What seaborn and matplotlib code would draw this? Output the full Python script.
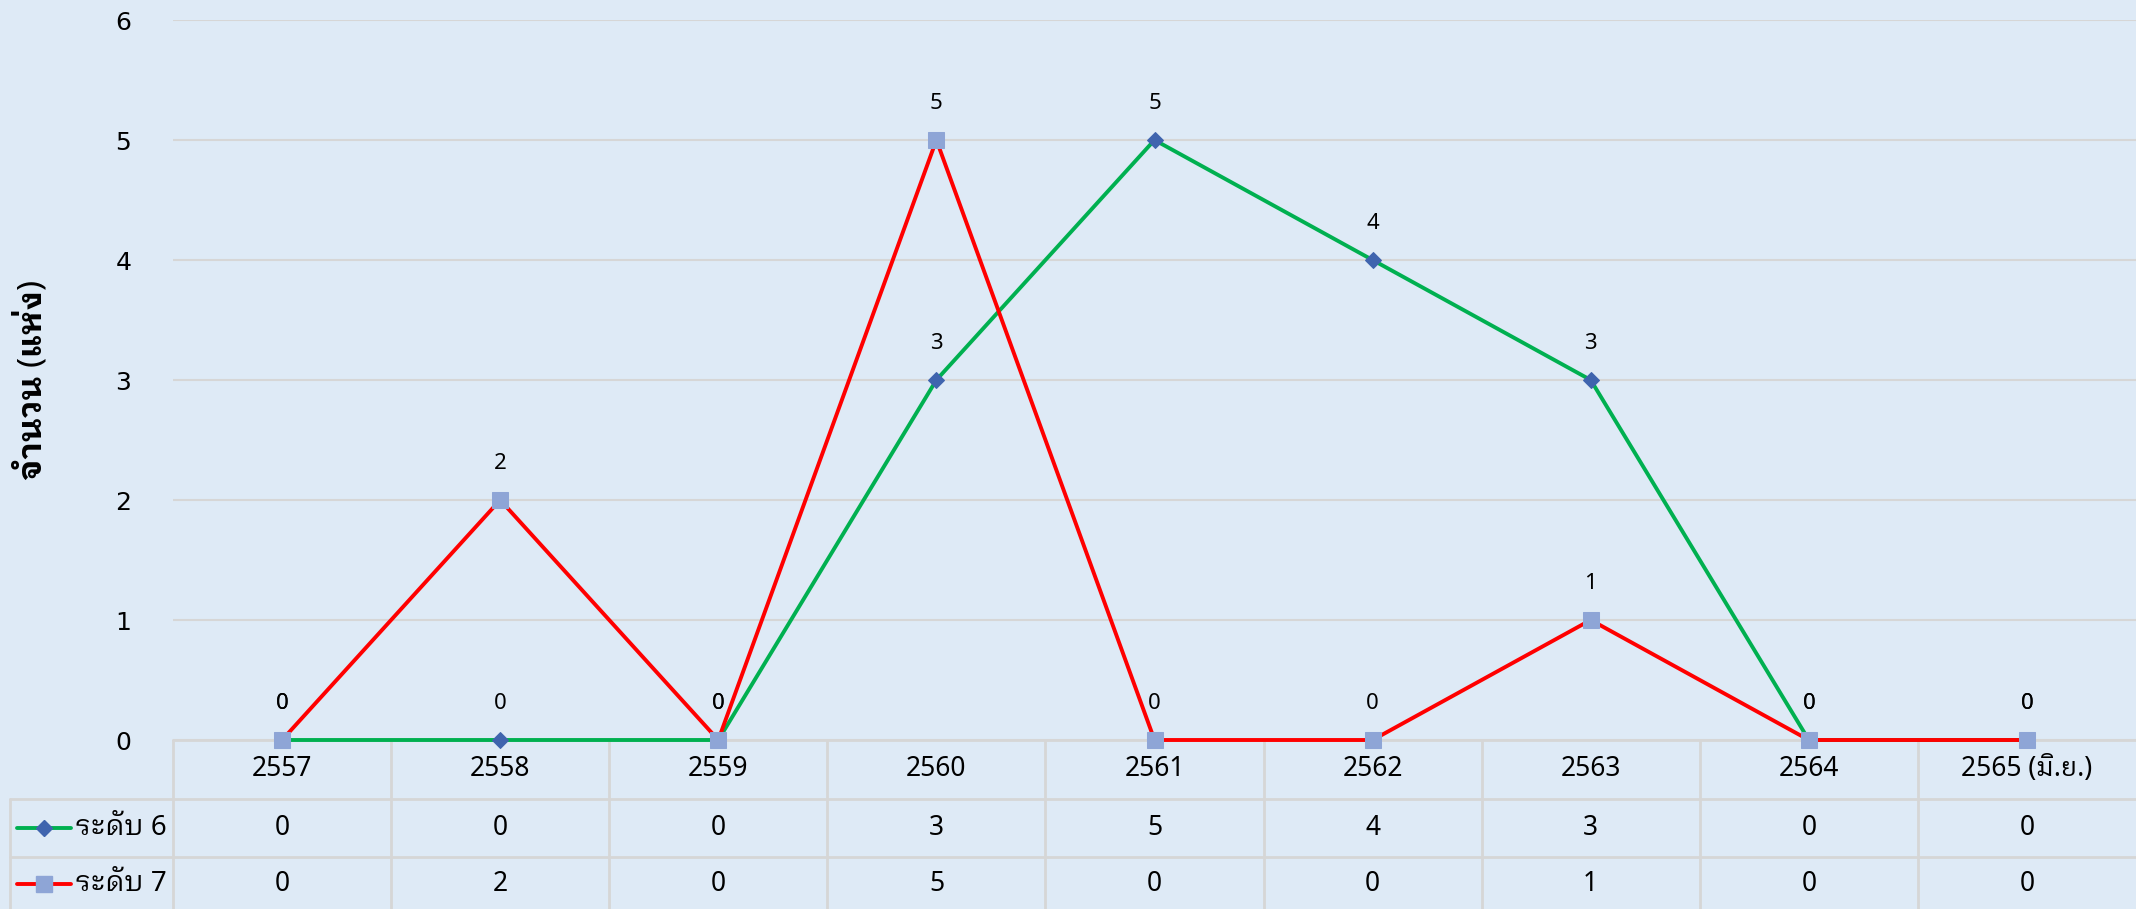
import numpy as np
import pandas as pd
import seaborn as sns
import matplotlib
matplotlib.use("Agg")
import matplotlib.pyplot as plt
from matplotlib import font_manager, ft2font
from matplotlib.lines import Line2D

# ---- data ----
years = ["2557", "2558", "2559", "2560", "2561", "2562", "2563", "2564", "2565 (มิ.ย.)"]
level6 = [0, 0, 0, 3, 5, 4, 3, 0, 0]
level7 = [0, 2, 0, 5, 0, 0, 1, 0, 0]
series_names = ["ระดับ 6", "ระดับ 7"]
y_label = "จำนวน (แห่ง)"
y_ticks = [0, 1, 2, 3, 4, 5, 6]

# ---- styling ----
BG = "#DEEAF6"
GRID = "#D6D6D6"
GREEN = "#00B050"
RED = "#FF0000"
DIAMOND = "#3F64AE"
SQUARE = "#8EA5D6"


def thai_capable_families():
    """Families whose fonts contain Thai glyphs, looped designs first."""
    found = []
    for f in font_manager.fontManager.ttflist:
        try:
            cmap = ft2font.FT2Font(f.fname).get_charmap()
        except Exception:
            continue
        if 0x0E08 in cmap and 0x0E31 in cmap and f.name not in found:
            found.append(f.name)
    found.sort(key=lambda n: ("Looped" not in n, "Thai" not in n, n))
    return found


sns.set_theme(style="white")
thai = thai_capable_families()
base_fams = ["Noto Sans"] + thai + ["DejaVu Sans"]
plt.rcParams["font.family"] = base_fams
plt.rcParams["text.color"] = "black"
plt.rcParams["axes.labelcolor"] = "black"
plt.rcParams["ytick.color"] = "black"

W, H = 2136, 909
fig = plt.figure(figsize=(W / 100, H / 100), dpi=100, facecolor=BG)

# plot area in pixels
L, R, T, B = 173, 2136, 20, 740
ax = fig.add_axes([L / W, 1 - B / H, (R - L) / W, (B - T) / H])
ax.set_facecolor(BG)

x = np.arange(len(years))
df = pd.DataFrame({"pos": np.concatenate([x, x]),
                   "value": level6 + level7,
                   "series": [series_names[0]] * len(x) + [series_names[1]] * len(x)})

sns.lineplot(data=df[df.series == series_names[0]], x="pos", y="value", ax=ax,
             color=GREEN, lw=2.8, marker="D", markersize=8.5,
             markerfacecolor=DIAMOND, markeredgecolor=DIAMOND, zorder=3, clip_on=False)
sns.lineplot(data=df[df.series == series_names[1]], x="pos", y="value", ax=ax,
             color=RED, lw=2.8, marker="s", markersize=12,
             markerfacecolor=SQUARE, markeredgecolor=SQUARE, zorder=4, clip_on=False)

ax.set_xlim(-0.5, len(years) - 0.5)
ax.set_ylim(0, 6)
ax.set_yticks(y_ticks)
ax.set_yticklabels([str(t) for t in y_ticks], fontsize=18, family=["DejaVu Sans"])
ax.tick_params(axis="y", length=0, pad=30, labelcolor="black")
ax.set_xticks([])
ax.set_xlabel("")
ax.yaxis.grid(True, color=GRID, lw=1.5)
ax.set_axisbelow(True)
for s in ax.spines.values():
    s.set_visible(False)
ax.set_ylabel(y_label, fontsize=24, fontweight="bold", color="black")
ax.yaxis.set_label_coords((50 - L) / (R - L), 0.5)

# value labels above each point
for vals in (level6, level7):
    for xi, v in zip(x, vals):
        ax.annotate(str(v), (xi, v), xytext=(0, 26), textcoords="offset points",
                    ha="center", va="center", fontsize=16, color="black",
                    annotation_clip=False, zorder=5)

# ---- data table beneath the plot ----
def fy(py):
    return 1 - py / H


def fx(px):
    return px / W


col_w = (R - L) / len(years)
row_lines = [B, 799, 857]
table_bottom = H

# horizontal rules
fig.add_artist(Line2D([fx(L), 1], [fy(B), fy(B)], transform=fig.transFigure,
                      color=GRID, lw=2, zorder=0))
for py in row_lines[1:]:
    fig.add_artist(Line2D([fx(10), 1], [fy(py), fy(py)], transform=fig.transFigure,
                          color=GRID, lw=2, zorder=0))
# vertical rules
for k in range(len(years)):
    px = L + col_w * k
    fig.add_artist(Line2D([fx(px), fx(px)], [fy(B), fy(table_bottom)],
                          transform=fig.transFigure, color=GRID, lw=2, zorder=0))
fig.add_artist(Line2D([fx(10), fx(10)], [fy(799), fy(table_bottom)],
                      transform=fig.transFigure, color=GRID, lw=2, zorder=0))

row_centers = [(B + 799) / 2, (799 + 857) / 2, 884]
xtrans = ax.get_xaxis_transform()


def ay(py):
    return (B - py) / (B - T)


for xi, yr in zip(x, years):
    ax.text(xi, ay(row_centers[0]), yr, transform=xtrans, ha="center", va="center",
            fontsize=19, color="black", clip_on=False)
for r, vals in enumerate((level6, level7)):
    for xi, v in zip(x, vals):
        ax.text(xi, ay(row_centers[r + 1]), str(v), transform=xtrans, ha="center",
                va="center", fontsize=19, color="black", clip_on=False)

# series keys in the first column
styles = [(GREEN, "D", 8.5, DIAMOND), (RED, "s", 12, SQUARE)]
for r, (name, (lc, mk, ms, mc)) in enumerate(zip(series_names, styles)):
    cy = fy(row_centers[r + 1])
    fig.add_artist(Line2D([fx(17), fx(71)], [cy, cy], transform=fig.transFigure,
                          color=lc, lw=2.8))
    fig.add_artist(Line2D([fx(44)], [cy], transform=fig.transFigure, marker=mk,
                          markersize=ms, markerfacecolor=mc, markeredgecolor=mc, lw=0))
    fig.text(fx(75), cy, name, ha="left", va="center", fontsize=20, color="black")

fig.savefig("out.png", dpi=100, facecolor=BG)
